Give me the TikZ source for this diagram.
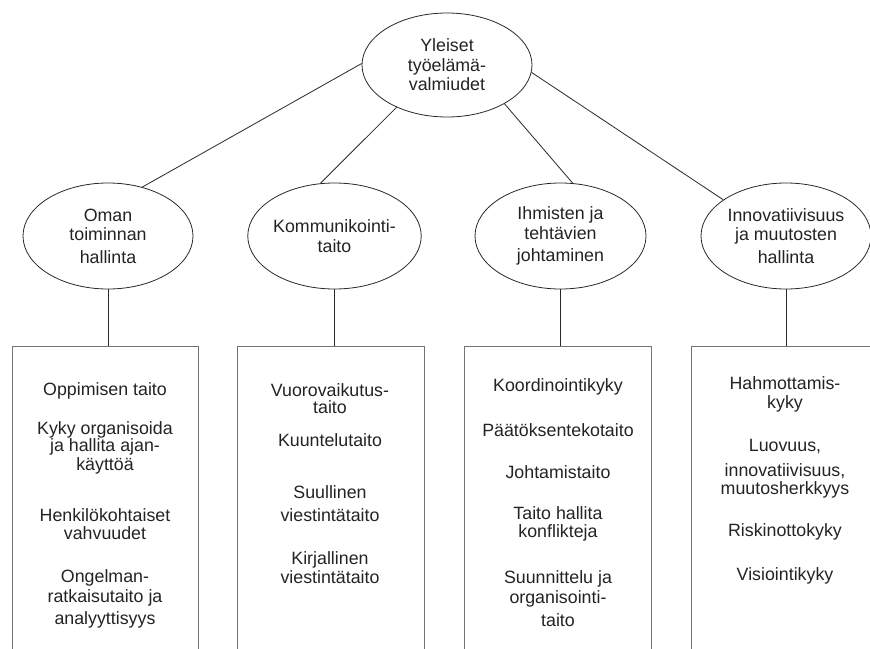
\documentclass[tikz,border=0pt]{standalone}
\usepackage{fontspec}
\setmainfont{Liberation Sans}
\usetikzlibrary{shapes.geometric}
\definecolor{txt}{RGB}{35,35,35}
\definecolor{boxline}{RGB}{115,115,115}
\definecolor{eline}{RGB}{40,40,40}
\begin{document}
\begin{tikzpicture}[x=1pt,y=-1pt,
  oval/.style={ellipse, draw=eline, line width=0.8pt, inner sep=0pt,
    minimum width=170pt, minimum height=106pt, align=center, text=txt,
    font=\fontsize{17.8}{19.5}\selectfont},
  panel/.style={draw=boxline, line width=1pt, anchor=north west, inner sep=0pt,
    minimum height=330pt},
  item/.style={align=center, text=txt, inner sep=0pt,
    font=\fontsize{17.8}{18}\selectfont},
  link/.style={draw=eline, line width=0.8pt}]
\useasboundingbox (0,0) rectangle (870,648);

% ellipses
\node[oval, minimum height=104pt] (top) at (447,65) {Yleiset\\työelämä-\\valmiudet};
\node[oval] (e1) at (108,236) {Oman\\toiminnan\\[3pt]hallinta};
\node[oval, minimum width=171pt] (e2) at (334.5,236) {Kommunikointi-\\taito};
\node[oval, minimum width=171pt] (e3) at (560.5,236) {Ihmisten ja\\tehtävien\\[3pt]johtaminen};
\node[oval] (e4) at (786,236) {Innovatiivisuus\\ja muutosten\\[3pt]hallinta};

% panels
\node[panel, minimum width=186pt] (b1) at (12,346) {};
\node[panel, minimum width=187pt] (b2) at (237,346) {};
\node[panel, minimum width=187pt] (b3) at (464,346) {};
\node[panel, minimum width=187pt] (b4) at (691,346) {};

% connectors
\draw[link] (top.179) -- (e1.55);
\draw[link] (top.220) -- (e2.105);
\draw[link] (top.326) -- (e3.77);
\draw[link] (top.355) -- (e4.150);
\draw[link] (e1.south) -- (e1.south |- b1.north);
\draw[link] (e2.south) -- (e2.south |- b2.north);
\draw[link] (e3.south) -- (e3.south |- b3.north);
\draw[link] (e4.south) -- (e4.south |- b4.north);

% items, panel 1
\node[item] (i11) at (105,391) {Oppimisen taito};
\node[item] (i12) at (105,447.5) {Kyky organisoida\\[-1pt]ja hallita ajan-\\[1pt]käyttöä};
\node[item] (i13) at (105,524) {Henkilökohtaiset\\vahvuudet};
\node[item] (i14) at (105,599) {Ongelman-\\[2pt]ratkaisutaito ja\\[4pt]analyyttisyys};

% items, panel 2
\node[item] (i21) at (330,398.5) {Vuorovaikutus-\\[-1pt]taito};
\node[item] (i22) at (330,440) {Kuuntelutaito};
\node[item] (i23) at (330,503.5) {Suullinen\\[5pt]viestintätaito};
\node[item] (i24) at (330,567.5) {Kirjallinen\\[1pt]viestintätaito};

% items, panel 3
\node[item] (i31) at (558,387) {Koordinointikyky};
\node[item] (i32) at (558,430) {Päätöksentekotaito};
\node[item] (i33) at (558,472) {Johtamistaito};
\node[item] (i34) at (558,524) {Taito hallita\\konflikteja};
\node[item] (i35) at (558,598.5) {Suunnittelu ja\\[2pt]organisointi-\\[5pt]taito};

% items, panel 4
\node[item] (i41) at (785,394.5) {Hahmottamis-\\[1pt]kyky};
\node[item] (i42) at (785,468.5) {Luovuus,\\[7pt]innovatiivisuus,\\muutosherkkyys};
\node[item] (i43) at (785,532) {Riskinottokyky};
\node[item] (i44) at (785,576) {Visiointikyky};
\end{tikzpicture}
\end{document}
